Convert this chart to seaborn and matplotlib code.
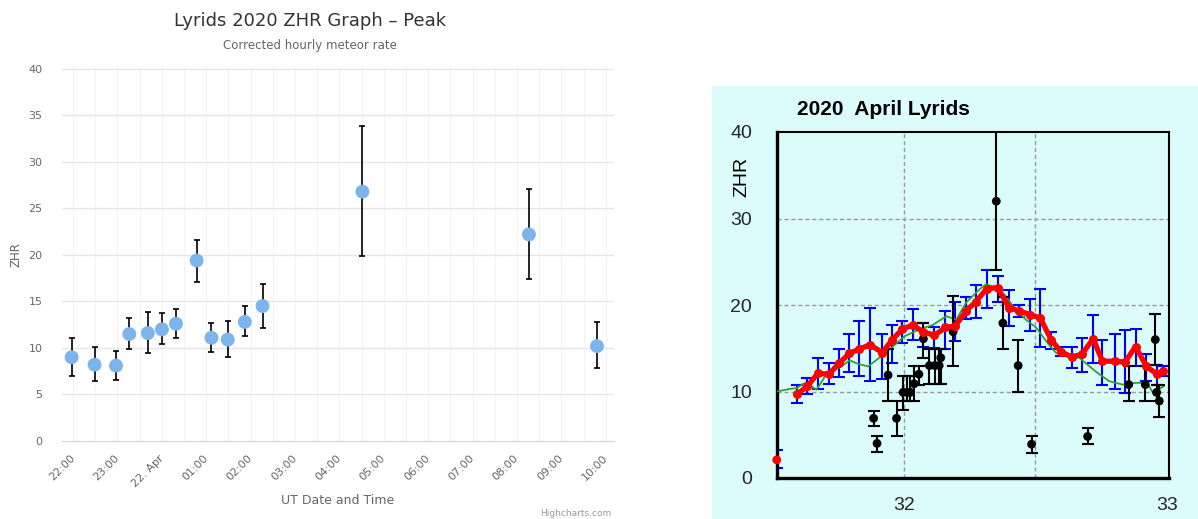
import pandas as pd
import numpy as np
import matplotlib
matplotlib.use("Agg")
import matplotlib.pyplot as plt
import seaborn as sns
from matplotlib.patches import Rectangle

# ---------------------------
# Left panel: Highcharts-style ZHR graph
# ---------------------------
obs_time = ["2020-04-21 21:58", "2020-04-21 22:29", "2020-04-21 22:58", "2020-04-21 23:16",
            "2020-04-21 23:41", "2020-04-22 00:00", "2020-04-22 00:19", "2020-04-22 00:47",
            "2020-04-22 01:07", "2020-04-22 01:29", "2020-04-22 01:52", "2020-04-22 02:16",
            "2020-04-22 04:31", "2020-04-22 08:16", "2020-04-22 09:48"]
obs_zhr = [9.0, 8.2, 8.1, 11.5, 11.6, 12.0, 12.6, 19.4, 11.1, 10.9, 12.8, 14.5, 26.8, 22.2, 10.2]
obs_lo = [7.0, 6.5, 6.6, 9.9, 9.5, 10.4, 11.1, 17.1, 9.6, 9.0, 11.3, 12.1, 19.9, 17.4, 7.8]
obs_hi = [11.1, 10.1, 9.7, 13.2, 13.9, 13.8, 14.2, 21.6, 12.7, 12.9, 14.5, 16.9, 33.8, 27.1, 12.8]
hour_labels = ["22:00", "23:00", "22. Apr", "01:00", "02:00", "03:00", "04:00",
               "05:00", "06:00", "07:00", "08:00", "09:00", "10:00"]
left_yticks = [0, 5, 10, 15, 20, 25, 30, 35, 40]

# ---------------------------
# Right panel: 2020 April Lyrids (solar longitude)
# ---------------------------
avg_sol = [31.596, 31.634, 31.674, 31.716, 31.756, 31.794, 31.831, 31.872, 31.919, 31.957,
           31.995, 32.035, 32.073, 32.117, 32.159, 32.197, 32.237, 32.275, 32.316, 32.358,
           32.400, 32.440, 32.480, 32.519, 32.560, 32.597, 32.638, 32.677, 32.720, 32.755,
           32.803, 32.841, 32.881, 32.922, 32.963, 32.985]
avg_zhr = [9.7, 10.6, 12.1, 12.0, 13.3, 14.4, 14.9, 15.4, 14.5, 16.0,
           17.2, 17.7, 16.9, 16.5, 17.4, 17.6, 19.3, 20.4, 21.9, 22.0,
           19.7, 19.3, 18.9, 18.5, 16.0, 14.6, 14.0, 14.3, 16.1, 13.5,
           13.5, 13.4, 15.2, 12.9, 12.0, 12.4]
avg_lo = [8.7, 9.7, 10.3, 10.9, 11.7, 12.2, 11.8, 11.2, 11.4, 13.3,
          15.6, 16.0, 15.2, 15.0, 14.9, 15.8, 18.4, 18.5, 19.6, 20.3,
          17.6, 18.6, 17.0, 15.2, 14.9, 14.1, 12.7, 12.2, 13.3, 10.8,
          10.3, 9.8, 12.9, 11.2, 10.7, 11.8]
avg_hi = [10.7, 11.6, 13.9, 13.3, 14.9, 16.7, 18.1, 19.7, 16.7, 17.7,
          18.1, 19.5, 17.9, 17.5, 19.3, 20.4, 20.9, 22.3, 24.1, 23.4,
          21.7, 20.0, 20.7, 21.9, 16.9, 15.2, 15.2, 16.2, 18.8, 16.0,
          16.6, 17.1, 17.2, 14.3, 13.1, 13.0]
lone_sol = [31.518]
lone_zhr = [2.1]
lone_lo = [1.1]
lone_hi = [3.2]

single_sol = [31.886, 31.899, 31.941, 31.973, 31.998, 32.014, 32.026, 32.040, 32.058, 32.075,
              32.098, 32.119, 32.135, 32.141, 32.188, 32.352, 32.377, 32.435, 32.486, 32.699,
              32.855, 32.918, 32.956, 32.961, 32.971]
single_zhr = [6.9, 4.0, 11.9, 6.9, 9.9, 9.9, 9.9, 10.9, 12.0, 16.1,
              13.0, 13.0, 13.0, 13.9, 16.9, 32.0, 17.9, 13.0, 3.9, 4.8,
              10.8, 10.8, 16.0, 9.9, 8.9]
single_lo = [6.0, 3.0, 8.9, 4.8, 7.9, 8.9, 8.9, 8.9, 10.8, 13.9,
             10.9, 10.9, 10.9, 10.9, 13.0, 24.0, 14.9, 9.9, 2.9, 3.9,
             8.9, 8.9, 13.1, 8.9, 7.0]
single_hi = [7.8, 4.8, 14.9, 8.9, 11.8, 11.8, 11.8, 12.9, 12.9, 17.9,
             14.9, 14.9, 14.9, 14.9, 21.0, 45.0, 20.9, 16.0, 4.8, 5.8,
             12.9, 12.9, 19.0, 10.8, 10.8]

model_sol = [31.520, 31.568, 31.594, 31.619, 31.631, 31.669, 31.707, 31.758, 31.795, 31.826,
             31.865, 31.916, 31.959, 32.004, 32.061, 32.111, 32.162, 32.200, 32.238, 32.288,
             32.313, 32.351, 32.389, 32.414, 32.465, 32.503, 32.547, 32.578, 32.616, 32.667,
             32.730, 32.780, 32.831, 32.881, 32.925, 32.951, 32.976, 32.989]
model_zhr = [10.0, 10.3, 10.4, 10.9, 11.0, 10.2, 12.0, 12.8, 13.6, 13.2,
             12.9, 14.1, 15.2, 16.4, 17.2, 17.7, 18.7, 18.3, 20.3, 21.8,
             22.4, 22.0, 21.0, 19.9, 18.3, 17.4, 15.6, 14.5, 14.1, 13.9,
             12.3, 11.2, 10.8, 11.0, 11.0, 9.6, 10.4, 10.6]
right_yticks = [0, 10, 20, 30, 40]
right_xticks = [32, 33]

W, H = 1198, 519
fig = plt.figure(figsize=(W / 100, H / 100), dpi=100)
sns.set_style("white")

# ---- left panel ----
left_df = pd.DataFrame({"time": pd.to_datetime(obs_time), "zhr": obs_zhr,
                        "lo": obs_lo, "hi": obs_hi})
ax1 = fig.add_axes([62 / W, 1 - 441 / H, (614 - 62) / W, (441 - 66) / H])
t0 = pd.Timestamp("2020-04-21 21:45")
t1 = pd.Timestamp("2020-04-22 10:11")
for t in pd.date_range("2020-04-21 22:00", "2020-04-22 10:00", freq="30min"):
    ax1.axvline(t, color="#f3f4f7", lw=0.8, zorder=0)
for yv in left_yticks[1:]:
    ax1.axhline(yv, color="#e6e6e6", lw=1, zorder=0)
ax1.errorbar(left_df["time"], left_df["zhr"],
             yerr=[left_df["zhr"] - left_df["lo"], left_df["hi"] - left_df["zhr"]],
             fmt="none", ecolor="black", elinewidth=1.2, capsize=2.2, capthick=1.2, zorder=2)
sns.scatterplot(data=left_df, x="time", y="zhr", ax=ax1, s=100, color="#7cb5ec",
                edgecolor="none", zorder=3)
ax1.set_xlim(t0, t1)
ax1.set_ylim(0, 40.3)
ax1.set_yticks(left_yticks)
ax1.set_yticklabels([str(v) for v in left_yticks], color="#666666", fontsize=8)
tick_pos = pd.date_range("2020-04-21 22:00", "2020-04-22 10:00", freq="h")
ax1.set_xticks(tick_pos)
ax1.set_xticklabels(hour_labels, rotation=45, ha="right", va="center",
                    rotation_mode="anchor", color="#666666", fontsize=8)
ax1.tick_params(axis="y", length=0, pad=14)
ax1.tick_params(axis="x", length=5, color="#ccd6eb", pad=6)
ax1.set_xlabel("")
ax1.set_ylabel("")
for s in ["top", "right", "left"]:
    ax1.spines[s].set_visible(False)
ax1.spines["bottom"].set_color("#ccd6eb")
ax1.set_facecolor("white")

fig.text(310 / W, 1 - 21 / H, "Lyrids 2020 ZHR Graph \u2013 Peak", ha="center", va="center",
         fontsize=13, color="#333333")
fig.text(310 / W, 1 - 46 / H, "Corrected hourly meteor rate", ha="center", va="center",
         fontsize=8.5, color="#666666")
fig.text(338 / W, 1 - 501 / H, "UT Date and Time", ha="center", va="center",
         fontsize=9, color="#666666")
fig.text(16 / W, 1 - 255 / H, "ZHR", ha="center", va="center", rotation=90,
         fontsize=8.5, color="#666666")
fig.text(611 / W, 1 - 514 / H, "Highcharts.com", ha="right", va="center",
         fontsize=6.5, color="#999999")

# ---- right panel ----
cyan = "#dbfcfb"
fig.patches.append(Rectangle((712 / W, 0), 1 - 712 / W, (H - 86) / H,
                             transform=fig.transFigure, color=cyan, zorder=-10))
ax2 = fig.add_axes([777 / W, 1 - 478 / H, (1169 - 777) / W, (478 - 132) / H])
ax2.set_facecolor(cyan)
rfont = "Liberation Sans"

avg_df = pd.DataFrame({"sol": avg_sol, "zhr": avg_zhr, "lo": avg_lo, "hi": avg_hi})
lone_df = pd.DataFrame({"sol": lone_sol, "zhr": lone_zhr, "lo": lone_lo, "hi": lone_hi})
single_df = pd.DataFrame({"sol": single_sol, "zhr": single_zhr, "lo": single_lo, "hi": single_hi})
model_df = pd.DataFrame({"sol": model_sol, "zhr": model_zhr})

for xv in [32, 32.5]:
    ax2.axvline(xv, color="#9a9a9a", lw=1, ls=(0, (3, 2)), zorder=1)
for yv in [10, 20, 30]:
    ax2.axhline(yv, color="#9a9a9a", lw=1, ls=(0, (3, 2)), zorder=1)

for d in [avg_df, lone_df]:
    ax2.errorbar(d["sol"], d["zhr"], yerr=[d["zhr"] - d["lo"], d["hi"] - d["zhr"]],
                 fmt="none", ecolor="#0000ff", elinewidth=1.5, capsize=4, capthick=1.5, zorder=2)
sns.lineplot(data=model_df, x="sol", y="zhr", ax=ax2, color="#33a033", lw=1.3,
             sort=False, zorder=3)
ax2.errorbar(single_df["sol"], single_df["zhr"],
             yerr=[single_df["zhr"] - single_df["lo"], single_df["hi"] - single_df["zhr"]],
             fmt="none", ecolor="black", elinewidth=1.5, capsize=4.5, capthick=1.5, zorder=4)
sns.scatterplot(data=single_df, x="sol", y="zhr", ax=ax2, s=40, color="black",
                edgecolor="none", zorder=5)
sns.lineplot(data=avg_df, x="sol", y="zhr", ax=ax2, color="#ff0000", lw=3.8,
             marker="o", markersize=6.5, markeredgewidth=0, sort=False, zorder=6)
sns.scatterplot(data=lone_df, x="sol", y="zhr", ax=ax2, s=40, color="#ff0000",
                edgecolor="none", zorder=6, clip_on=False)

ax2.set_xlim(31.519, 33.008)
ax2.set_ylim(0, 40)
ax2.set_xticks(right_xticks)
ax2.set_xticklabels([str(v) for v in right_xticks], fontsize=14, family=rfont)
ax2.set_yticks(right_yticks)
ax2.set_yticklabels([str(v) for v in right_yticks], fontsize=14, family=rfont)
ax2.tick_params(axis="both", direction="in", length=3, width=2, color="black")
ax2.tick_params(axis="y", pad=18)
ax2.tick_params(axis="x", pad=14)
ax2.set_xlabel("")
ax2.set_ylabel("")
for s in ["left", "bottom"]:
    ax2.spines[s].set_linewidth(2.4)
    ax2.spines[s].set_color("black")
for s in ["top", "right"]:
    ax2.spines[s].set_linewidth(1.5)
    ax2.spines[s].set_color("black")
    ax2.spines[s].set_visible(True)

fig.text(797 / W, 1 - 110 / H, "2020  April Lyrids", ha="left", va="center",
         fontsize=15, fontweight="bold", family=rfont, color="black")
fig.text(742 / W, 1 - 177 / H, "ZHR", ha="center", va="center", rotation=90,
         fontsize=14, family=rfont, color="black")

fig.savefig("out.png", dpi=100)
